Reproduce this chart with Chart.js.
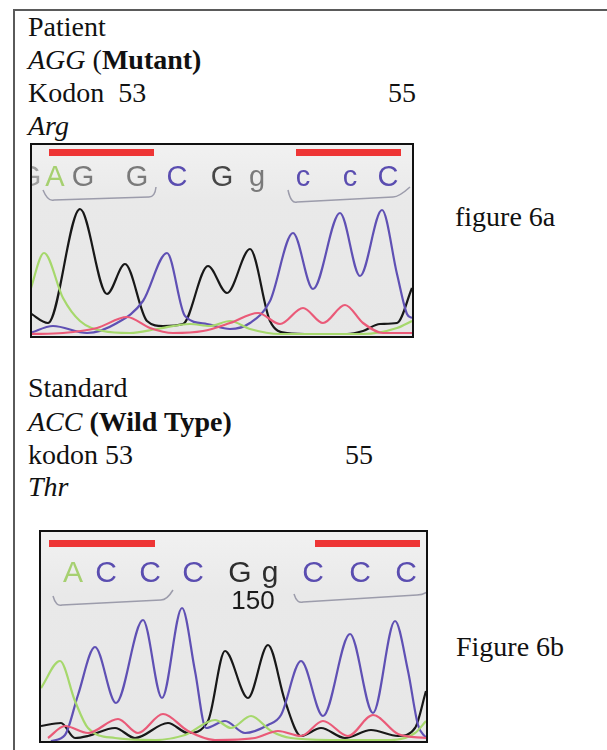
<!DOCTYPE html>
<html><head><meta charset="utf-8">
<script src="https://cdn.jsdelivr.net/npm/chart.js@4.4.1/dist/chart.umd.min.js"></script>
<style>
html,body{margin:0;padding:0;background:#fff;}
body{width:607px;height:750px;overflow:hidden;position:relative;font-family:"Liberation Serif","Times New Roman",serif;}
.frame{position:absolute;left:13px;top:9px;width:640px;height:800px;border-left:2px solid #5a5a5a;border-top:2px solid #5a5a5a;}
.t{position:absolute;font-size:28px;line-height:28px;white-space:pre;color:#111;}
.box{position:absolute;border:2px solid #111;background:#e9e9e9;}
canvas{display:block;}
</style></head><body>
<div class="frame"></div>
<div class="t" style="left:28px;top:13px">Patient</div>
<div class="t" style="left:28px;top:46px"><i>AGG</i> (<b>Mutant)</b></div>
<div class="t" style="left:28px;top:79px">Kodon&nbsp; 53</div>
<div class="t" style="left:388px;top:79px">55</div>
<div class="t" style="left:28px;top:112px"><i>Arg</i></div>
<div class="t" style="left:455px;top:203px">figure 6a</div>
<div class="t" style="left:28px;top:374px">Standard</div>
<div class="t" style="left:28px;top:408px"><i>ACC</i> <b>(Wild Type)</b></div>
<div class="t" style="left:28px;top:441px">kodon 53</div>
<div class="t" style="left:345px;top:441px">55</div>
<div class="t" style="left:28px;top:473px"><i>Thr</i></div>
<div class="t" style="left:456px;top:633px">Figure 6b</div>

<div class="box" style="left:30px;top:143px;width:380px;height:191px"><canvas id="c1" width="380" height="191"></canvas></div>
<div class="box" style="left:39px;top:530px;width:385px;height:209px"><canvas id="c2" width="385" height="209"></canvas></div>

<script>
// ---------- Patient (figure 6a) : scan position vs signal ----------
const patientBlack  = [[-2,23],[16,13],[48,127],[75,42],[93,72],[115,15],[131,10],[151,12],[176,70],[195,43],[218,87],[238,15],[255,3],[281,2],[315,2],[331,5],[348,12],[365,13],[380,48]];
const patientPurple = [[-2,3],[21,10],[55,3],[85,13],[111,35],[135,83],[153,20],[175,12],[198,7],[218,13],[238,35],[261,103],[281,47],[308,123],[328,60],[350,126],[365,62],[375,22],[380,18]];
const patientGreen  = [[-2,45],[12,83],[31,38],[48,15],[71,5],[98,3],[125,7],[158,12],[178,10],[198,15],[218,7],[248,2],[331,2],[365,8],[380,15]];
const patientRed    = [[-2,2],[31,3],[65,8],[95,19],[118,8],[141,3],[171,5],[198,13],[226,23],[248,12],[271,28],[291,13],[313,31],[331,13],[351,3],[380,3]];
const patientBases    = ['G','A','G','G','C','G','g','c','c','C'];
const patientBasePos  = [-2,23,51,105,145,190,225,271,318,356];
const patientCodons   = [[17,122],[264,369]];

// ---------- Standard (figure 6b) ----------
const standardBlack  = [[0,15],[20,18],[34,3],[47,5],[74,13],[94,3],[127,18],[147,8],[167,20],[184,90],[207,43],[227,96],[244,40],[260,5],[280,13],[304,3],[330,11],[357,5],[374,13],[385,50]];
const standardPurple = [[10,0],[24,6],[37,46],[54,94],[75,38],[102,121],[121,43],[141,133],[154,70],[165,13],[184,20],[204,8],[227,16],[240,26],[260,80],[282,25],[309,107],[332,28],[354,120],[367,70],[377,16],[385,3]];
const standardGreen  = [[0,53],[19,80],[34,40],[47,13],[74,3],[114,1],[144,6],[174,21],[190,13],[210,25],[230,10],[250,3],[297,1],[350,1],[374,8],[385,20]];
const standardRed    = [[7,3],[24,15],[47,8],[77,22],[97,8],[122,27],[147,10],[174,1],[214,3],[237,10],[260,5],[282,20],[307,5],[332,26],[357,7],[385,3]];
const standardBases   = ['A','C','C','C','G','g','C','C','C'];
const standardBasePos = [32,65,109,152,199,229,272,319,365];
const standardCodons  = [[8,114],[274,379]];
const standardScanLabel = {text:'150', pos:212};

const COL = {black:'#181818', purple:'#5f50b4', green:'#a6d86c', red:'#ea5a78'};
const BASECOL = {A:'#9fd066', C:'#5a4db0', G:'#707070', g:'#7a7a7a', c:'#5a4db0'};

const pts = arr => arr.map(p => ({x:p[0], y:p[1]}));
function ds(label, arr, color){
  return {label, data: pts(arr), borderColor: color, borderWidth: 2.2, pointRadius: 0,
          fill: false, cubicInterpolationMode: 'monotone'};
}

const decor = {
  id: 'decor',
  beforeDraw(chart, args, o){
    const {ctx, chartArea: a} = chart;
    ctx.save();
    const g = ctx.createLinearGradient(0, a.top, 0, a.bottom);
    g.addColorStop(0, '#f1f1f1'); g.addColorStop(0.3, '#e9e9e9'); g.addColorStop(1, '#e7e7e7');
    ctx.fillStyle = g; ctx.fillRect(a.left, a.top, a.right - a.left, a.bottom - a.top);
    ctx.restore();
  },
  beforeDatasetsDraw(chart, args, o){
    const {ctx, chartArea: a, scales: {x}} = chart;
    ctx.save();
    ctx.beginPath(); ctx.rect(a.left, a.top, a.right - a.left, a.bottom - a.top); ctx.clip();
    // codon bars
    ctx.fillStyle = '#ee3535';
    o.codons.forEach(c => {
      const x0 = x.getPixelForValue(c[0]), x1 = x.getPixelForValue(c[1]);
      ctx.fillRect(x0, a.top + o.barTop, x1 - x0, 7);
    });
    // brackets
    ctx.strokeStyle = '#9c9cab'; ctx.lineWidth = 1.5;
    o.brackets.forEach(b => {
      ctx.beginPath();
      ctx.moveTo(x.getPixelForValue(b[0][0]), a.top + b[0][1]);
      ctx.quadraticCurveTo(x.getPixelForValue(b[1][0]) - 2, a.top + b[1][1] + 2, x.getPixelForValue(b[1][0]) + 4, a.top + b[1][1]);
      ctx.lineTo(x.getPixelForValue(b[2][0]) - 4, a.top + b[2][1]);
      ctx.quadraticCurveTo(x.getPixelForValue(b[2][0]) + 2, a.top + b[2][1], x.getPixelForValue(b[3][0]), a.top + b[3][1]);
      ctx.stroke();
    });
    // base calls
    ctx.font = o.baseFont; ctx.textAlign = 'center'; ctx.textBaseline = 'alphabetic';
    o.bases.forEach((b, i) => {
      ctx.fillStyle = (o.baseColors && o.baseColors[i]) || BASECOL[b];
      ctx.fillText(b, x.getPixelForValue(o.basePos[i]), a.top + o.baseLine);
    });
    if (o.scanLabel){
      ctx.fillStyle = '#1a1a1a'; ctx.font = '26px "Liberation Sans", Arial, sans-serif';
      ctx.fillText(o.scanLabel.text, x.getPixelForValue(o.scanLabel.pos), a.top + o.scanLine);
    }
    ctx.restore();
  }
};

function makeChart(id, sets, xmax, ymax, decoOpts){
  return new Chart(document.getElementById(id), {
    type: 'line',
    data: {datasets: sets},
    options: {
      responsive: false, animation: false,
      layout: {padding: 0},
      plugins: {legend: {display: false}, tooltip: {enabled: false}, decor: decoOpts},
      scales: {
        x: {type: 'linear', display: false, min: 0, max: xmax},
        y: {display: false, min: 0, max: ymax}
      }
    },
    plugins: [decor]
  });
}

makeChart('c1', [
  ds('T', patientRed, COL.red), ds('A', patientGreen, COL.green),
  ds('C', patientPurple, COL.purple), ds('G', patientBlack, COL.black)
], 380, 191, {
  codons: patientCodons, barTop: 4,
  bases: patientBases, basePos: patientBasePos, baseLine: 41,
  baseFont: '29px "Liberation Sans", Arial, sans-serif',
  baseColors: ['#a0a0a0','#a6d070','#7a7a7a','#7a7a7a','#5a4db0','#474747','#7a7a7a','#5a4db0','#5a4db0','#5a4db0'],
  brackets: [ [[11,45],[18,55],[121,52],[124,42]], [[256,45],[261,57],[365,52],[378,42]] ]
});

makeChart('c2', [
  ds('T', standardRed, COL.red), ds('A', standardGreen, COL.green),
  ds('C', standardPurple, COL.purple), ds('G', standardBlack, COL.black)
], 385, 209, {
  codons: standardCodons, barTop: 8,
  bases: standardBases, basePos: standardBasePos, baseLine: 50,
  baseFont: '30px "Liberation Sans", Arial, sans-serif',
  baseColors: ['#a6d070','#5a4db0','#5a4db0','#5a4db0','#2e2e2e','#2e2e2e','#5a4db0','#5a4db0','#5a4db0'],
  scanLabel: standardScanLabel, scanLine: 77,
  brackets: [ [[12,64],[17,73],[124,68],[132,58]], [[253,62],[258,70],[380,63],[386,60]] ]
});
</script>
</body></html>
